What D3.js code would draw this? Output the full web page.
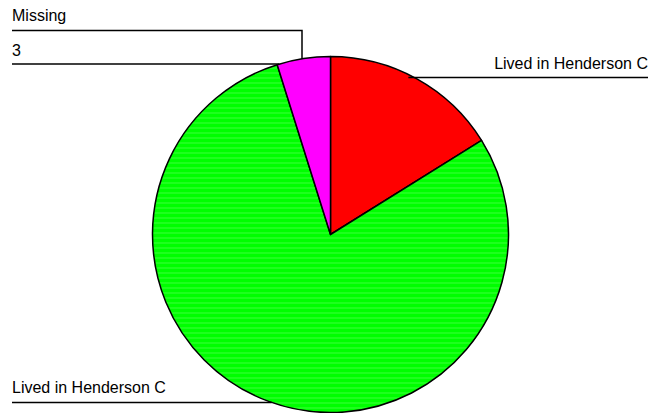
<!DOCTYPE html>
<html>
<head>
<meta charset="utf-8">
<script src="https://cdn.jsdelivr.net/npm/d3@7"></script>
<style>
  html, body { margin: 0; padding: 0; background: #fff; }
  svg text { font-family: "Liberation Sans", Arial, sans-serif; font-size: 16px; fill: #000; }
</style>
</head>
<body>
<svg id="chart" width="652" height="413"></svg>
<script>
// Residence categories and counts
const categories = ["Lived in Henderson C", "Lived in Henderson C", "Missing"];
const counts = [10, 49, 3];
const sliceColors = ["#ff0000", "#00ff00", "#ff00ff"];

const width = 652, height = 413;
const cx = 330.5, cy = 234.5, r = 178;

const svg = d3.select("#chart");

// pattern giving the green slice its faint horizontal banding
const defs = svg.append("defs");
const pat = defs.append("pattern")
  .attr("id", "band").attr("patternUnits", "userSpaceOnUse")
  .attr("width", 8).attr("height", 5);
pat.append("rect").attr("width", 8).attr("height", 5).attr("fill", "#00ff00");
pat.append("rect").attr("y", 3).attr("width", 8).attr("height", 1).attr("fill", "#3cff3c");

const pie = d3.pie().sort(null).value(d => d)(counts);
const arc = d3.arc().innerRadius(0).outerRadius(r);

const g = svg.append("g").attr("transform", `translate(${cx},${cy})`);
g.selectAll("path.slice")
  .data(pie)
  .join("path")
  .attr("class", "slice")
  .attr("d", arc)
  .attr("fill", (d, i) => i === 1 ? "url(#band)" : sliceColors[i])
  .attr("stroke", "#000")
  .attr("stroke-width", 1.5)
  .attr("stroke-linejoin", "round");

// x where a horizontal line at y meets the circle
const edgeX = (y, side) => cx + side * Math.sqrt(Math.max(0, r * r - (y - cy) * (y - cy)));
const edgeY = x => cy - Math.sqrt(Math.max(0, r * r - (x - cx) * (x - cx)));

const lines = svg.append("g").attr("stroke", "#000").attr("stroke-width", 1.5).attr("fill", "none");

// Missing: name above, count below, leader dropping onto the slice
svg.append("text").attr("x", 12).attr("y", 21).text(categories[2]);
svg.append("text").attr("x", 12).attr("y", 56).text(String(counts[2]));
lines.append("path").attr("d", `M12,30.5H302V${edgeY(302)}`);
lines.append("path").attr("d", `M12,64H${edgeX(64, -1)}`);

// first category, labelled on the right
svg.append("text").attr("x", 648).attr("y", 69).attr("text-anchor", "end").text(categories[0]);
lines.append("path").attr("d", `M${edgeX(77.5, 1) - 6},77.5H648`);

// second category, labelled bottom left
svg.append("text").attr("x", 12).attr("y", 393).text(categories[1]);
lines.append("path").attr("d", `M12,402.5H${edgeX(402.5, -1)}`);
</script>
</body>
</html>
